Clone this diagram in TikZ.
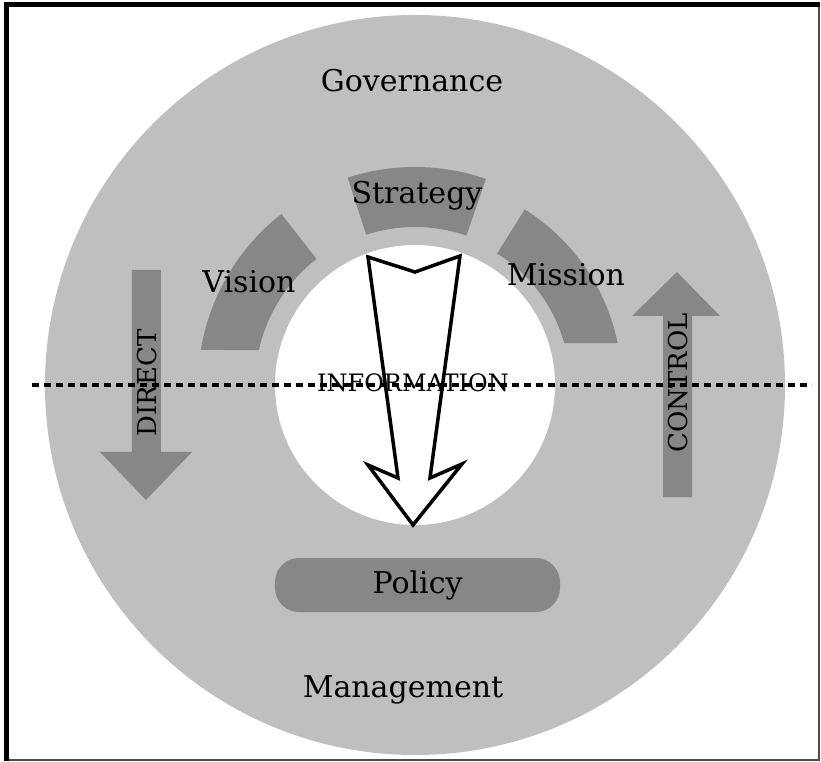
\documentclass[tikz,border=0pt]{standalone}
\usepackage{fontspec}
\setmainfont{DejaVu Serif}
\usetikzlibrary{positioning, calc}

\definecolor{ringgray}{gray}{0.75}
\definecolor{bandgray}{gray}{0.53}

\begin{document}
\begin{tikzpicture}[x=1pt, y=1pt,
  band/.style={fill=bandgray, draw=none},
  word/.style={font=\fontsize{30}{36}\selectfont, anchor=base},
  caps/.style={font=\fontsize{26}{30}\selectfont, rotate=90},
  pill/.style={fill=bandgray, rounded corners=24pt, minimum width=285pt, minimum height=54pt, font=\fontsize{30}{36}\selectfont},
  infoline/.style={line width=4.5pt, dash pattern=on 7pt off 5pt},
  hollow/.style={line width=3.5pt, fill=white, line join=miter}
]
  \useasboundingbox (-415,-377) rectangle (406,385);
  \fill[white] (-415,-377) rectangle (406,385);

  % frame
  \draw[line width=2pt, black!70] (-408,380) -- (404,380) -- (404,-375) -- (-408,-375);
  \draw[line width=5pt] (-408,-376) -- (-408,380) -- (405,380);

  % rings
  \fill[ringgray] (0,0) circle[radius=370];
  \fill[white] (0,0) circle[radius=140];

  % bands: vision, strategy, mission
  \fill[band] (128:217) arc[start angle=128, end angle=170.7, radius=217]
    -- (167.4:160) arc[start angle=167.4, end angle=128, radius=160] -- cycle;
  \fill[band] (71:218) arc[start angle=71, end angle=108, radius=218]
    -- (108:158) arc[start angle=108, end angle=71, radius=158] -- cycle;
  \fill[band] (58:207) arc[start angle=58, end angle=11.7, radius=207]
    -- (15.7:155) arc[start angle=15.7, end angle=58, radius=155] -- cycle;

  % direct / control arrows
  \fill[band] (-283,115) -- (-254,115) -- (-254,-67) -- (-223,-67)
    -- (-269,-115) -- (-315,-67) -- (-283,-67) -- cycle;
  \fill[band] (248,-112) -- (277,-112) -- (277,69) -- (305,69)
    -- (262,113) -- (217,69) -- (248,69) -- cycle;

  % information arrow
  \draw[hollow] (-2,-140) -- (47,-79) -- (15,-93) -- (45,129) -- (0,113)
    -- (-47,128) -- (-17,-93) -- (-47,-80) -- cycle;

  \coordinate (infoL) at (-383,0);
  \coordinate (infoR) at (397,0);
  \draw[infoline] (infoL) -- (infoR);

  \node[pill] (policy) at (2.5,-200) {Policy};

  \node[word] (gov) at (-3,293) {Governance};
  \node[word] (strategy) at (2,181) {Strategy};
  \node[word] (vision) at (-166,92) {Vision};
  \node[word] (mission) at (151,99) {Mission};
  \node[word] (mgmt) at (-12,-312) {Management};
  \node[font=\fontsize{24}{28}\selectfont, anchor=base] (info) at (-2,-7) {INFORMATION};
  \node[caps] (direct) at (-268,2) {DIRECT};
  \node[caps] (control) at (263,2) {CONTROL};
\end{tikzpicture}
\end{document}
